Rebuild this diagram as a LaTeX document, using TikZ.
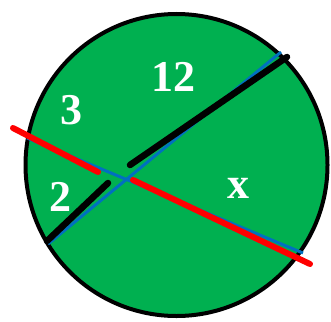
\documentclass[tikz,border=0pt]{standalone}
\usepackage{fontspec}
\setmainfont{Liberation Serif}
\usetikzlibrary{positioning}
\definecolor{circgreen}{HTML}{00B050}
\definecolor{chordblue}{HTML}{0070C0}

\begin{document}
\begin{tikzpicture}[x=1pt, y=-1pt,
    seglabel/.style={font=\bfseries\fontsize{44}{44}\selectfont, text=white, inner sep=0pt},
    chord/.style={chordblue, line width=3pt},
    blackmark/.style={black, line width=6.5pt, line cap=round},
    redmark/.style={red, line width=6pt, line cap=round}
  ]
  \useasboundingbox (0,0) rectangle (331,321);

  % disc
  \coordinate (o) at (176.5,165);
  \fill[circgreen] (o) circle (151pt);
  \draw[black, line width=4pt] (o) circle (151pt);

  % chord ends
  \coordinate (a1) at (48,244);
  \coordinate (a2) at (281,52);
  \coordinate (b1) at (27,138);
  \coordinate (b2) at (303,253);
  \draw[chord] (a1) -- (a2);
  \draw[chord] (b1) -- (b2);

  % hand marks
  \coordinate (k1) at (47,241);
  \coordinate (k2) at (108,183);
  \coordinate (k3) at (130,165);
  \coordinate (k4) at (287,57);
  \draw[blackmark] (k1) -- (k2);
  \draw[blackmark] (k3) -- (k4);

  \coordinate (r1) at (13,128);
  \coordinate (r2) at (98,172);
  \coordinate (r3) at (133,180);
  \coordinate (r4) at (310,264);
  \draw[redmark] (r1) -- (r2);
  \draw[redmark] (r3) -- (r4);

  % lengths
  \node[seglabel] (three) at (71,110) {3};
  \node[seglabel] (twelve) at (173,77) {12};
  \node[seglabel] (two) at (60,197) {2};
  \node[seglabel] (ex) at (238,188) {x};
\end{tikzpicture}
\end{document}
